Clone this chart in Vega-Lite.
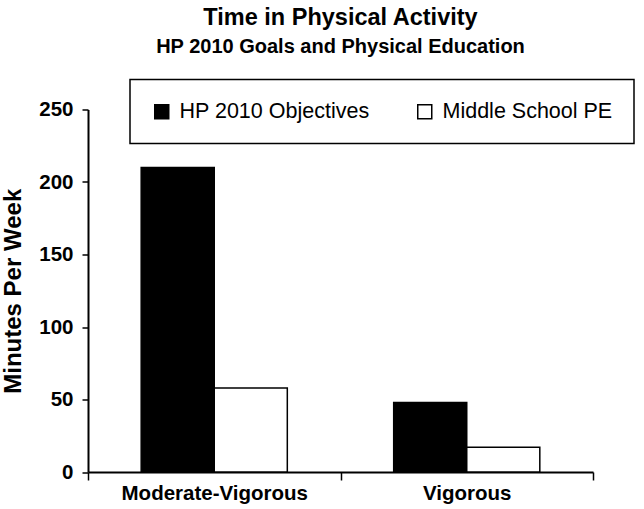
{
  "$schema": "https://vega.github.io/schema/vega-lite/v6.json",
  "autosize": {"type": "none"},
  "width": 505,
  "height": 362.5,
  "padding": {"left": 88, "top": 109.5, "right": 51, "bottom": 37},
  "background": "white",
  "title": {
    "text": "Time in Physical Activity",
    "subtitle": "HP 2010 Goals and Physical Education",
    "font": "Liberation Sans",
    "fontSize": 23.5,
    "fontWeight": "bold",
    "color": "black",
    "subtitleFont": "Liberation Sans",
    "subtitleFontSize": 20,
    "subtitleFontWeight": "bold",
    "subtitleColor": "black",
    "subtitlePadding": 7,
    "anchor": "middle",
    "frame": "group",
    "offset": 22
  },
  "data": {
    "values": [
      {"Category": "Moderate-Vigorous", "Series": "HP 2010 Objectives", "Minutes": 210},
      {"Category": "Moderate-Vigorous", "Series": "Middle School PE", "Minutes": 58},
      {"Category": "Vigorous", "Series": "HP 2010 Objectives", "Minutes": 48},
      {"Category": "Vigorous", "Series": "Middle School PE", "Minutes": 17}
    ]
  },
  "mark": {"type": "bar", "stroke": "black", "strokeWidth": 1.5, "opacity": 1},
  "encoding": {
    "x": {
      "field": "Category",
      "type": "nominal",
      "sort": ["Moderate-Vigorous", "Vigorous"],
      "scale": {"paddingInner": 0, "paddingOuter": 0},
      "axis": {
        "title": null,
        "labelAngle": 0,
        "labelLimit": 400,
        "tickBand": "extent",
        "labelFont": "Liberation Sans",
        "labelFontSize": 20.5,
        "labelFontWeight": "bold",
        "labelColor": "black",
        "labelPadding": 3,
        "tickSize": 8,
        "tickWidth": 1.5,
        "tickColor": "black",
        "domainColor": "black",
        "domainWidth": 2,
        "grid": false
      }
    },
    "xOffset": {
      "field": "Series",
      "type": "nominal",
      "sort": ["HP 2010 Objectives", "Middle School PE"],
      "scale": {"paddingInner": 0, "paddingOuter": 0.728}
    },
    "y": {
      "field": "Minutes",
      "type": "quantitative",
      "scale": {"domain": [0, 250], "nice": false},
      "axis": {
        "title": "Minutes Per Week",
        "values": [0, 50, 100, 150, 200, 250],
        "titleFont": "Liberation Sans",
        "titleFontSize": 24,
        "titleFontWeight": "bold",
        "titleColor": "black",
        "titlePadding": 13,
        "labelFont": "Liberation Sans",
        "labelFontSize": 20.5,
        "labelFontWeight": "bold",
        "labelColor": "black",
        "labelPadding": 9,
        "tickSize": 6,
        "tickWidth": 1.5,
        "tickColor": "black",
        "domainColor": "black",
        "domainWidth": 2,
        "grid": false
      }
    },
    "color": {
      "field": "Series",
      "type": "nominal",
      "scale": {"domain": ["HP 2010 Objectives", "Middle School PE"], "range": ["black", "white"]},
      "legend": {
        "title": null,
        "orient": "none",
        "direction": "horizontal",
        "legendX": 42,
        "legendY": -30,
        "padding": 21,
        "strokeColor": "black",
        "fillColor": "white",
        "symbolType": "square",
        "symbolSize": 196,
        "symbolStrokeColor": "black",
        "symbolStrokeWidth": 1.5,
        "symbolOpacity": 1,
        "labelFont": "Liberation Sans",
        "labelFontSize": 21.5,
        "labelColor": "black",
        "labelOffset": 7,
        "labelLimit": 300,
        "columnPadding": 44
      }
    }
  },
  "config": {"view": {"stroke": null}, "legend": {"strokeWidth": 1.5}}
}
